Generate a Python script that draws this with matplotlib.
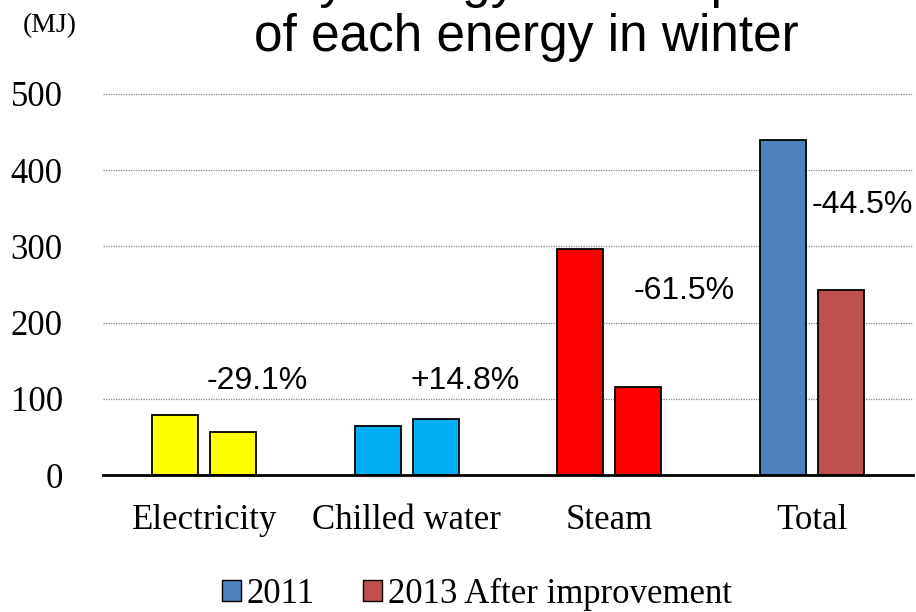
import numpy as np
import matplotlib.pyplot as plt

# chart data
categories = ["Electricity", "Chilled water", "Steam", "Total"]
values_2011 = [79, 64, 297, 439]
values_2013 = [56, 74, 115, 243]
change_labels = ["-29.1%", "+14.8%", "-61.5%", "-44.5%"]
label_x = [0.26, 1.29, 2.37, 3.25]
label_y = [124, 124, 242, 354]
series_names = ["2011", "2013 After improvement"]

# bar colours per category (2011, 2013)
colors_2011 = ["#FFFF00", "#00B0F0", "#FF0000", "#4F81BD"]
colors_2013 = ["#FFFF00", "#00B0F0", "#FF0000", "#C0504D"]

serif = "Liberation Serif"
sans = "Liberation Sans"

fig = plt.figure(figsize=(9.16, 6.12), dpi=100)
ax = fig.add_axes([103 / 916, 137 / 612, 810 / 916, 381 / 612])

x = np.arange(len(categories))
w = 0.227
off = 0.143
ax.bar(x - off, values_2011, w, color=colors_2011, edgecolor="black", linewidth=1.3, zorder=3)
ax.bar(x + off, values_2013, w, color=colors_2013, edgecolor="black", linewidth=1.3, zorder=3)

for lx, ly, txt in zip(label_x, label_y, change_labels):
    ax.text(lx, ly, txt, ha="center", va="center", fontsize=23, family=sans)

ax.set_xlim(-0.5, 3.5)
ax.set_ylim(0, 500)
ax.set_yticks([0, 100, 200, 300, 400, 500])
ax.set_xticks(x)
ax.set_xticklabels(categories, fontsize=25, family=serif)
for lab in ax.get_yticklabels():
    lab.set_fontsize(25)
    lab.set_family(serif)
ax.tick_params(axis="x", length=0, pad=21)
ax.tick_params(axis="y", length=0, pad=29)

ax.grid(axis="y", linestyle=(0, (1, 1)), color="#808080", linewidth=0.9, zorder=0)
for s in ["left", "right", "top"]:
    ax.spines[s].set_visible(False)
ax.spines["bottom"].set_linewidth(2)
ax.spines["bottom"].set_zorder(4)

# title, first line sits mostly above the picture as in the source slide
fig.text(526 / 916, 1 + 3 / 612, "Daily energy consumption", ha="center", va="baseline",
         fontsize=37, family=sans)
fig.text(526 / 916, 1 - 51 / 612, "of each energy in winter", ha="center", va="baseline",
         fontsize=37, family=sans)
fig.text(50 / 916, 1 - 26 / 612, "(MJ)", ha="center", va="center", fontsize=20, family=serif)

# legend
h1 = plt.Rectangle((0, 0), 1, 1, facecolor="#4F81BD", edgecolor="black")
h2 = plt.Rectangle((0, 0), 1, 1, facecolor="#C0504D", edgecolor="black")
fig.legend([h1, h2], series_names, loc="center", bbox_to_anchor=(477 / 916, 1 - 594 / 612),
           ncol=2, frameon=False, prop={"family": serif, "size": 25},
           handlelength=0.55, handleheight=0.55, handletextpad=0.15, columnspacing=1.4)

fig.savefig("out.png", dpi=100)
